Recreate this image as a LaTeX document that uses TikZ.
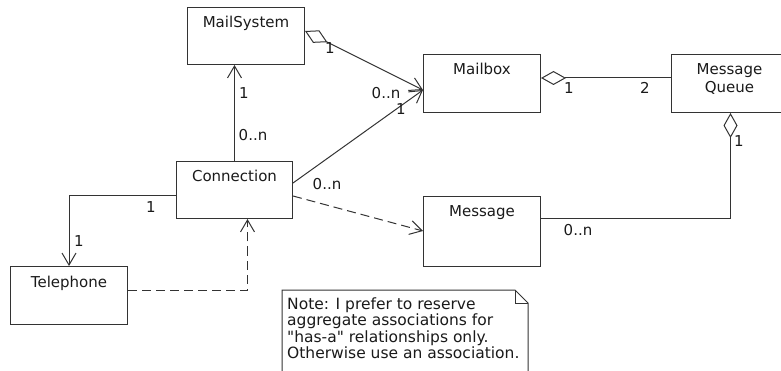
\documentclass[tikz,border=0pt]{standalone}
\usepackage{fontspec}
\setmainfont{DejaVu Sans}[Ligatures=TeXOff]
\usetikzlibrary{arrows.meta,calc}
\definecolor{ln}{HTML}{333333}
\definecolor{tx}{HTML}{1A1A1A}
\begin{document}
\begin{tikzpicture}[x=1pt,y=-1pt,
  every node/.style={text=tx},
  box/.style={draw=ln,line width=1pt,rectangle,anchor=north west,inner xsep=0pt,inner ysep=4pt,
    text height=16.5pt,font=\fontsize{15}{18}\selectfont},
  lbl/.style={font=\fontsize{15}{18}\selectfont,inner sep=0pt},
  conn/.style={draw=ln,line width=1pt},
  opentip/.style={-{Straight Barb[length=12pt,width=14pt,line width=1pt]}},
  agg/.style={{Diamond[open,length=25pt,width=14pt,line width=1pt]}-},
  aggnav/.style={{Diamond[open,length=25pt,width=14pt,line width=1pt]}-{Straight Barb[length=12pt,width=14pt,line width=1pt]}},
  dep/.style={dash pattern=on 9pt off 5pt}]
\useasboundingbox (0,0) rectangle (781,371);
\clip (0,0) rectangle (781,371);
% classes
\node[box,minimum width=117pt,text depth=32.5pt] (ms) at (187,7) {MailSystem};
\node[box,minimum width=117pt,text depth=33.5pt] (mb) at (423,54) {Mailbox};
\node[box,minimum width=116pt,text depth=33.5pt] (mq) at (671,54)
  {\begin{tabular}[t]{@{}c@{}}Message\\Queue\end{tabular}};
\node[box,minimum width=116pt,text depth=32.5pt] (con) at (176,161) {Connection};
\node[box,minimum width=117pt,text depth=45.5pt] (msg) at (423,196) {Message};
\node[box,minimum width=117pt,text depth=33.5pt] (tel) at (10,266) {Telephone};
% connectors
\coordinate (mbin) at ([yshift=-36pt]mb.north west);
\coordinate (mbout) at ([yshift=-24pt]mb.north east);
\draw[conn,aggnav] ([yshift=-24pt]ms.north east) -- (mbin);
\draw[conn,opentip] ([yshift=-22pt]con.north east) -- (mbin);
\draw[conn,opentip] (con.north) -- (con.north |- ms.south);
\draw[conn,opentip] ([yshift=-35pt]con.north west) -| (tel.north);
\draw[conn,dep,opentip] ([yshift=-24pt]tel.north east) -| ([xshift=13pt]con.south);
\draw[conn,dep,opentip] ([yshift=-35pt]con.north east) -- ([yshift=-35pt]msg.north west);
\draw[conn,-{Diamond[open,length=25pt,width=14pt,line width=1pt]}] ([yshift=-23pt]msg.north east) -| ([xshift=1pt]mq.south);
\draw[conn,agg] (mbout) -- (mq.west |- mbout);
% multiplicities
\node[lbl] (l1) at (330,48) {1};
\node[lbl] (l2) at (386,93) {0..n};
\node[lbl] (l3) at (401,109) {1};
\node[lbl] (l4) at (244,93) {1};
\node[lbl] (l5) at (253,135) {0..n};
\node[lbl] (l6) at (327,184) {0..n};
\node[lbl] (l7) at (151,207) {1};
\node[lbl] (l8) at (79,241) {1};
\node[lbl] (l9) at (578,230) {0..n};
\node[lbl] (l10) at (739,141) {1};
\node[lbl] (l11) at (569,88) {1};
\node[lbl] (l12) at (645,88) {2};
% note
\draw[conn] (282,375) -- (282,290) -- (515,290) -- (528,303) -- (528,375);
\draw[conn] (515,290) -- (515,303) -- (528,303);
\node[anchor=base west,inner sep=0pt,font=\fontsize{15.5}{16}\selectfont] (note) at (287,309)
  {\begin{tabular}[t]{@{}l@{}}Note: I prefer to reserve\\aggregate associations for\\"has-a" relationships only.\\Otherwise use an association.\end{tabular}};
\end{tikzpicture}
\end{document}
